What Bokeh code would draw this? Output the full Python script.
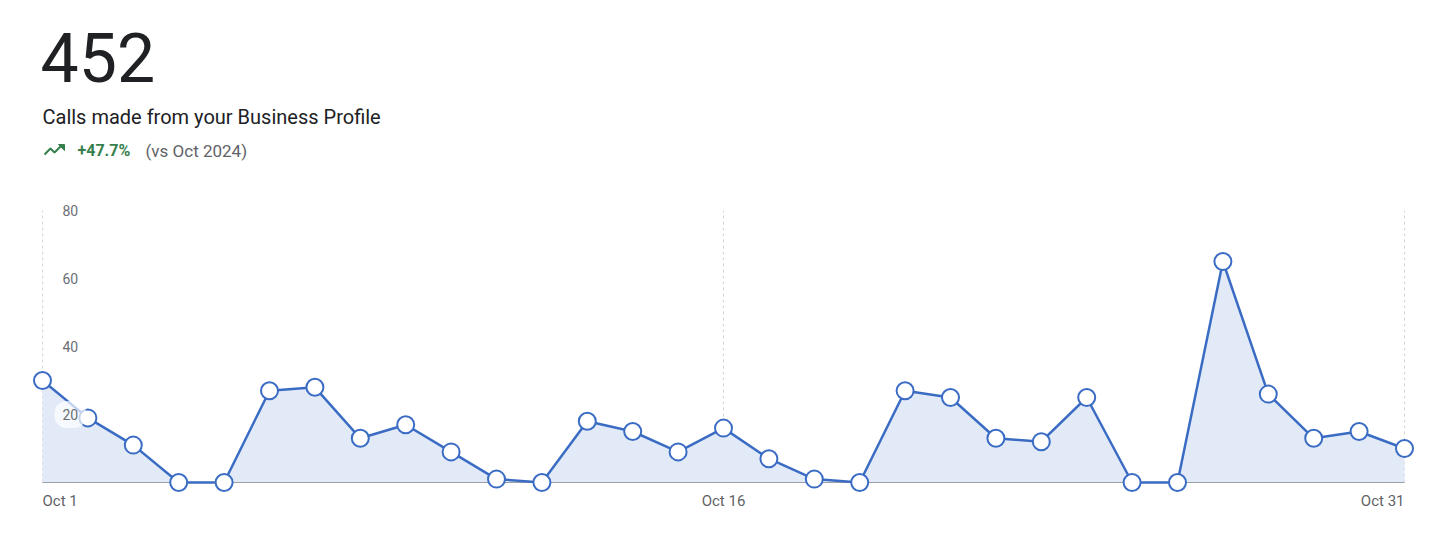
from bokeh.plotting import figure
from bokeh.models import Range1d
from bokeh.core.properties import value
from bokeh.embed import file_html
from bokeh.resources import INLINE

# ---- data ----
days = list(range(1, 32))
calls = [30, 19, 11, 0, 0, 27, 28, 13, 17, 9, 1, 0, 18, 15, 9, 16,
         7, 1, 0, 27, 25, 13, 12, 25, 0, 0, 65, 26, 13, 15, 10]
y_ticks = [20, 40, 60, 80]
y_tick_labels = ["20", "40", "60", "80"]
x_ticks = [1, 16, 31]
x_tick_labels = ["Oct 1", "Oct 16", "Oct 31"]
total_label = "452"
subtitle = "Calls made from your Business Profile"
change_label = "+47.7%"
compare_label = "(vs Oct 2024)"

# ---- layout helpers (page pixels -> data) ----
W, H = 1424, 520
ORIGIN = 0  # page offset of the canvas
X1_PX, X31_PX = 42, 1404
Y0_PX, PX_PER_UNIT = 482, 3.4
PX_PER_DAY = (X31_PX - X1_PX) / (days[-1] - days[0])


def dx(px):
    return days[0] + (px - X1_PX) / PX_PER_DAY


def dy(py):
    return (Y0_PX - py) / PX_PER_UNIT


FONT = value("Roboto")
BLUE = "#3b6cc4"
FILL = "#e2eaf8"
GREY_TXT = "#5f6368"
GREEN = "#367f4c"

p = figure(width=W, height=H,
           x_range=Range1d(dx(ORIGIN), dx(ORIGIN + W)),
           y_range=Range1d(dy(ORIGIN + H), dy(ORIGIN)),
           output_backend="svg", toolbar_location=None,
           x_axis_location=None, y_axis_location=None,
           min_border=0, min_border_left=0, min_border_right=0,
           min_border_top=0, min_border_bottom=0)
p.grid.visible = False
p.outline_line_color = None
p.background_fill_color = "white"
p.border_fill_color = "white"

# vertical dashed guides
p.segment(x0=x_ticks, y0=[0] * len(x_ticks), x1=x_ticks, y1=[max(y_ticks)] * len(x_ticks),
          line_color="#d4d6da", line_width=1, line_dash="3 3")

# area
p.varea(x=days, y1=[0] * len(days), y2=calls, fill_color=FILL, fill_alpha=1)

# baseline
p.line(x=[days[0], days[-1]], y=[0, 0], line_color="#9aa0a6", line_width=1.2)

# line + markers
p.line(x=days, y=calls, line_color=BLUE, line_width=2.5)
p.scatter(x=days, y=calls, size=17, marker="circle", fill_color="white",
          line_color=BLUE, line_width=2)

# y tick labels (with a soft white halo)
p.text(x=[dx(54)] * len(y_ticks), y=y_ticks, text=y_tick_labels,
       text_align="left", text_baseline="middle", text_font=FONT,
       text_font_size="14px", text_color="#6b6f74",
       background_fill_color="white", background_fill_alpha=0.7,
       border_radius=12, padding=8)

# x tick labels
aligns = ["left", "center", "right"]
for xt, lab, al in zip(x_ticks, x_tick_labels, aligns):
    p.text(x=[xt], y=[dy(500)], text=[lab], text_align=al, text_baseline="middle",
           text_font=FONT, text_font_size="15px", text_color=GREY_TXT)

# header
p.text(x=[dx(40)], y=[dy(57)], text=[total_label], text_align="left",
       text_baseline="middle", text_font=FONT, text_font_size="68px",
       text_color="#202124")
p.text(x=[dx(42)], y=[dy(116)], text=[subtitle], text_align="left",
       text_baseline="middle", text_font=FONT, text_font_size="20px",
       text_color="#202124")
p.text(x=[dx(77)], y=[dy(150)], text=[change_label], text_align="left",
       text_baseline="middle", text_font=FONT, text_font_size="16px",
       text_font_style="bold", text_color=GREEN)
p.text(x=[dx(145)], y=[dy(150)], text=[compare_label], text_align="left",
       text_baseline="middle", text_font=FONT, text_font_size="17px",
       text_color=GREY_TXT)

# trending-up icon
ix = [44, 50, 54, 60]
iy = [154, 148, 152, 146]
p.line(x=[dx(v) for v in ix], y=[dy(v) for v in iy], line_color=GREEN, line_width=2)
p.patch(x=[dx(58), dx(64), dx(64)], y=[dy(144), dy(144), dy(150)],
        fill_color=GREEN, line_color=GREEN)

open("out.html", "w").write(file_html(p, INLINE))
